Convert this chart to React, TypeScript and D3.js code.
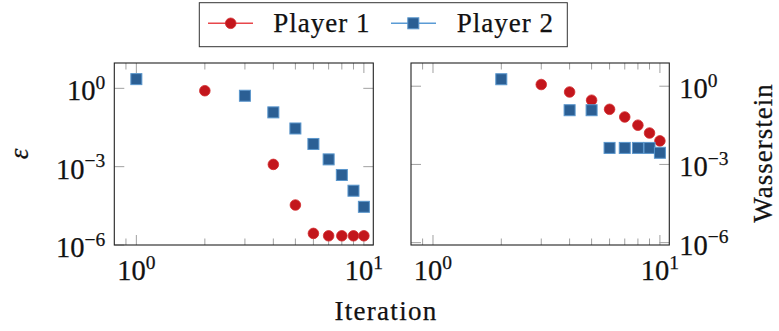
import React from "react";
import * as d3 from "d3";

// Iteration index shared by both panels
const iterations = [1, 2, 3, 4, 5, 6, 7, 8, 9, 10];

// Exploitability (epsilon) per player; null = no point drawn
const epsPlayer1: (number | null)[] = [null, 0.81, null, 1.22e-3, 3.4e-5, 2.78e-6, 2.25e-6, 2.25e-6, 2.25e-6, 2.25e-6];
const epsPlayer2: (number | null)[] = [2.25, null, 0.52, 0.12, 0.029, 0.0074, 0.0019, 4.8e-4, 1.2e-4, 2.9e-5];

// Wasserstein distance per player
const wassPlayer1: (number | null)[] = [null, null, 1.16, 0.6, 0.29, 0.13, 0.066, 0.032, 0.016, 0.008];
const wassPlayer2: (number | null)[] = [null, 1.85, null, 0.12, 0.12, 0.0043, 0.0043, 0.0043, 0.0043, 0.0028];

const seriesNames = ["Player 1", "Player 2"];
const xMajorTicks = [1, 10];
const xMinorTicks = [0.9, 2, 3, 4, 5, 6, 7, 8, 9];
const yMajorTicks = [1, 1e-3, 1e-6];

const W = 779;
const H = 331;
const FONT = "'Liberation Serif', 'Times New Roman', serif";
const INK = "#111";

const RED_FILL = "#c3161c";
const RED_EDGE = "#d22a2c";
const RED_LINE = "#e8474b";
const BLUE_FILL = "#2b5f94";
const BLUE_EDGE = "#5a96cc";
const BLUE_LINE = "#5a9bd5";
const TICK = "#a0a0a0";

// slight outline to give the serif text a heavier colour
const textInk = { fill: INK, stroke: INK, strokeWidth: 0.25 };

type Panel = {
  left: number;
  right: number;
  top: number;
  bottom: number;
  yDomain: [number, number];
  p1: (number | null)[];
  p2: (number | null)[];
  labelSide: "left" | "right";
  yLabel: string;
};

const panels: Panel[] = [
  { left: 114.3, right: 373.3, top: 63, bottom: 245, yDomain: [1e-6, Math.pow(10, 0.97)], p1: epsPlayer1, p2: epsPlayer2, labelSide: "left", yLabel: "ε" },
  { left: 411, right: 669.3, top: 63, bottom: 245, yDomain: [Math.pow(10, -6.09), Math.pow(10, 0.89)], p1: wassPlayer1, p2: wassPlayer2, labelSide: "right", yLabel: "Wasserstein" },
];

function Pow10({ exp, x, y, anchor }: { exp: number; x: number; y: number; anchor: "start" | "middle" | "end" }) {
  const sup = exp < 0 ? `\u2212${-exp}` : `${exp}`;
  return (
    <text x={x} y={y} textAnchor={anchor} fontFamily={FONT} fontSize={28.5} {...textInk}>
      10
      <tspan dy={-11.5} fontSize={19.5}>{sup}</tspan>
    </text>
  );
}

function Circle({ cx, cy }: { cx: number; cy: number }) {
  return <circle cx={cx} cy={cy} r={5.3} fill={RED_FILL} stroke={RED_EDGE} strokeWidth={0.8} />;
}

function Square({ cx, cy }: { cx: number; cy: number }) {
  const s = 11;
  return <rect x={cx - s / 2} y={cy - s / 2} width={s} height={s} fill={BLUE_FILL} stroke={BLUE_EDGE} strokeWidth={1} />;
}

function PanelView({ p }: { p: Panel }) {
  const x = d3.scaleLog().domain([0.8, 11]).range([p.left, p.right]);
  const y = d3.scaleLog().domain(p.yDomain).range([p.bottom, p.top]);
  const majorLen = 10;
  const minorLen = 6.5;
  const pts1 = iterations.map((it, i) => ({ it, v: p.p1[i] })).filter((d) => d.v != null) as { it: number; v: number }[];
  const pts2 = iterations.map((it, i) => ({ it, v: p.p2[i] })).filter((d) => d.v != null) as { it: number; v: number }[];
  return (
    <g>
      {/* inward ticks on all four sides */}
      {xMinorTicks.map((t) => (
        <g key={`xm${t}`} stroke={TICK} strokeWidth={1}>
          <line x1={x(t)} x2={x(t)} y1={p.bottom} y2={p.bottom - minorLen} />
          <line x1={x(t)} x2={x(t)} y1={p.top} y2={p.top + minorLen} />
        </g>
      ))}
      {xMajorTicks.map((t) => (
        <g key={`xM${t}`} stroke={TICK} strokeWidth={1}>
          <line x1={x(t)} x2={x(t)} y1={p.bottom} y2={p.bottom - majorLen} />
          <line x1={x(t)} x2={x(t)} y1={p.top} y2={p.top + majorLen} />
        </g>
      ))}
      {yMajorTicks.map((t) => (
        <g key={`yM${t}`} stroke={TICK} strokeWidth={1}>
          <line x1={p.left} x2={p.left + majorLen} y1={y(t)} y2={y(t)} />
          <line x1={p.right} x2={p.right - majorLen} y1={y(t)} y2={y(t)} />
        </g>
      ))}
      <rect x={p.left} y={p.top} width={p.right - p.left} height={p.bottom - p.top} fill="none" stroke="#222" strokeWidth={1.1} />

      {/* x tick labels */}
      {xMajorTicks.map((t) => (
        <Pow10 key={`xl${t}`} exp={Math.round(Math.log10(t))} x={x(t)} y={280} anchor="middle" />
      ))}
      {/* y tick labels */}
      {yMajorTicks.map((t) =>
        p.labelSide === "left" ? (
          <Pow10 key={`yl${t}`} exp={Math.round(Math.log10(t))} x={p.left - 9} y={y(t) + 12} anchor="end" />
        ) : (
          <Pow10 key={`yl${t}`} exp={Math.round(Math.log10(t))} x={p.right + 10} y={y(t) + 12} anchor="start" />
        )
      )}

      {/* series markers: Player 1 first, Player 2 on top */}
      {pts1.map((d) => (
        <Circle key={`a${d.it}`} cx={x(d.it)} cy={y(d.v)} />
      ))}
      {pts2.map((d) => (
        <Square key={`b${d.it}`} cx={x(d.it)} cy={y(d.v)} />
      ))}
    </g>
  );
}

export default function App() {
  return (
    <svg width={W} height={H} style={{ position: "absolute", left: 0, top: 0, background: "#fff" }}>
      <rect width={W} height={H} fill="#fff" />
      {panels.map((p, i) => (
        <PanelView key={i} p={p} />
      ))}

      {/* axis titles */}
      <text transform="translate(28,154) rotate(-90)" textAnchor="middle" fontFamily={FONT} fontStyle="italic" fontSize={27} {...textInk}>
        {panels[0].yLabel}
      </text>
      <text transform="translate(772,153) rotate(-90)" textAnchor="middle" fontFamily={FONT} fontSize={27} letterSpacing={1} {...textInk}>
        {panels[1].yLabel}
      </text>
      <text x={386} y={319.5} textAnchor="middle" fontFamily={FONT} fontSize={27} letterSpacing={1.3} {...textInk}>
        Iteration
      </text>

      {/* legend */}
      <rect x={199.3} y={2.7} width={368} height={44} fill="#fff" stroke="#333" strokeWidth={1} />
      <line x1={208} x2={253} y1={23.3} y2={23.3} stroke={RED_LINE} strokeWidth={1.6} />
      <Circle cx={230.7} cy={23.3} />
      <text x={273.3} y={32} fontFamily={FONT} fontSize={27} letterSpacing={1} {...textInk}>
        {seriesNames[0]}
      </text>
      <line x1={391} x2={436} y1={23.3} y2={23.3} stroke={BLUE_LINE} strokeWidth={1.6} />
      <Square cx={413.3} cy={23.3} />
      <text x={456.7} y={32} fontFamily={FONT} fontSize={27} letterSpacing={1} {...textInk}>
        {seriesNames[1]}
      </text>
    </svg>
  );
}
